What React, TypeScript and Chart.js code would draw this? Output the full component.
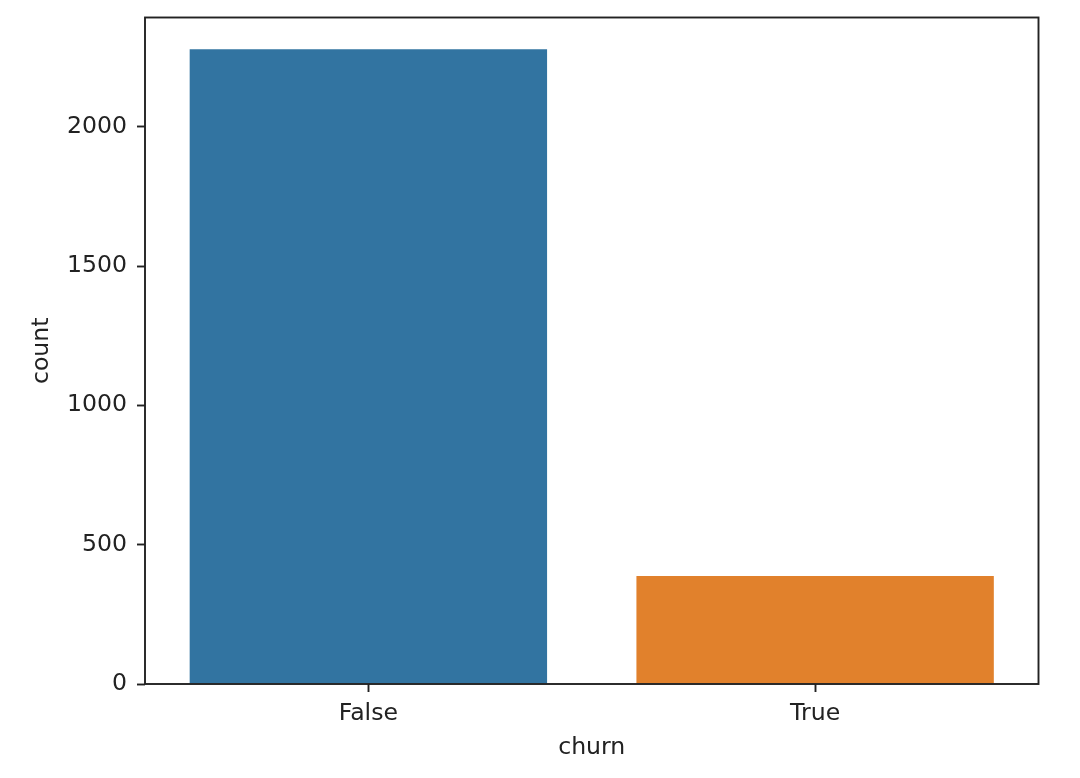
import { useEffect, useRef } from "react";
import { Chart, registerables } from "chart.js";

Chart.register(...registerables);

const categories = ["False", "True"];
const counts = [2278, 388];
const barColors = ["#3274A1", "#E1812C"];
const yTicks = [0, 500, 1000, 1500, 2000];

const INK = "#222222";
const FONT = { family: "'DejaVu Sans', sans-serif", size: 23.6 };

// matplotlib-style frame drawn on top of the bars
const framePlugin = {
  id: "frame",
  afterDatasetsDraw(chart: Chart) {
    const { ctx, chartArea: a } = chart;
    ctx.save();
    ctx.strokeStyle = INK;
    ctx.lineWidth = 1.9;
    ctx.strokeRect(a.left, a.top, a.right - a.left, a.bottom - a.top);
    ctx.restore();
  },
};

export default function App() {
  const canvasRef = useRef<HTMLCanvasElement>(null);
  const chartRef = useRef<Chart | null>(null);

  useEffect(() => {
    const canvas = canvasRef.current;
    if (!canvas) return;
    chartRef.current?.destroy();

    chartRef.current = new Chart(canvas, {
      type: "bar",
      data: {
        labels: categories,
        datasets: [
          {
            data: counts,
            backgroundColor: barColors,
            borderWidth: 0,
            barPercentage: 0.8,
            categoryPercentage: 1,
          },
        ],
      },
      options: {
        animation: false,
        responsive: false,
        maintainAspectRatio: false,
        devicePixelRatio: 1,
        layout: { padding: { left: 0, right: 41.5, top: 17.5, bottom: 0 } },
        plugins: {
          legend: { display: false },
          tooltip: { enabled: false },
        },
        scales: {
          x: {
            offset: true,
            afterFit: (s: any) => {
              s.height = 94;
              s.paddingLeft = 0;
              s.paddingRight = 0;
            },
            grid: {
              offset: false,
              drawOnChartArea: false,
              drawTicks: true,
              tickLength: 8,
              tickWidth: 1.9,
              tickColor: INK,
            },
            border: { display: false },
            ticks: { color: INK, font: FONT, padding: 8 },
            title: {
              display: true,
              text: "churn",
              color: INK,
              font: FONT,
              padding: { top: 0, bottom: 16 },
            },
          },
          y: {
            min: 0,
            max: counts[0] * 1.05,
            afterFit: (s: any) => {
              s.width = 145;
              s.paddingTop = 0;
              s.paddingBottom = 0;
            },
            afterBuildTicks: (s: any) => {
              s.ticks = yTicks.map((v) => ({ value: v }));
            },
            grid: {
              drawOnChartArea: false,
              drawTicks: true,
              tickLength: 8,
              tickWidth: 1.9,
              tickColor: INK,
            },
            border: { display: false },
            ticks: {
              color: INK,
              font: FONT,
              padding: 10,
              callback: (v: any) => String(v),
            },
            title: {
              display: true,
              text: "count",
              color: INK,
              font: FONT,
              padding: { top: 28, bottom: 0 },
            },
          },
        },
      },
      plugins: [framePlugin],
    });

    return () => {
      chartRef.current?.destroy();
      chartRef.current = null;
    };
  }, []);

  return (
    <div style={{ position: "fixed", left: 0, top: 0, width: 1080, height: 778, background: "#fff" }}>
      <canvas ref={canvasRef} width={1080} height={778} />
    </div>
  );
}
